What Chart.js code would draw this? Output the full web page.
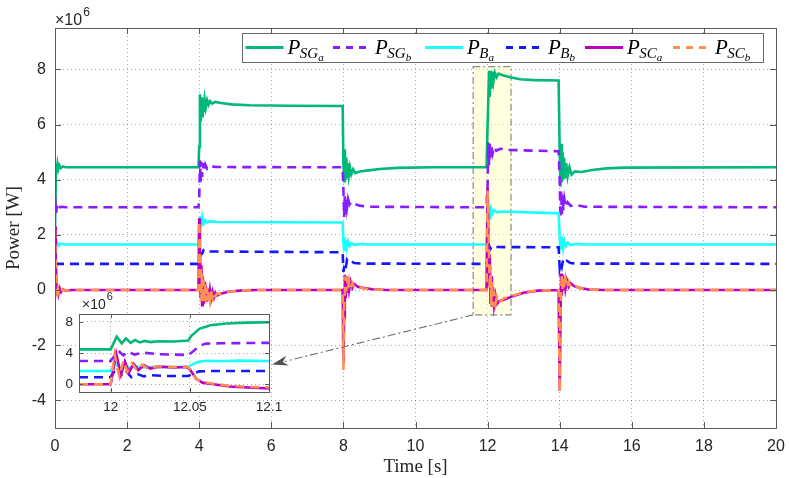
<!DOCTYPE html>
<html><head><meta charset="utf-8">
<script src="https://cdn.jsdelivr.net/npm/chart.js@4.4.1/dist/chart.umd.min.js"></script>
<style>
html,body{margin:0;padding:0;background:#fff;}
#wrap{position:relative;width:789px;height:478px;}
#main{position:absolute;left:0;top:0;}
#inset{position:absolute;left:50px;top:285px;}
</style></head>
<body><div id="wrap"><canvas id="main" width="789" height="478"></canvas><canvas id="inset" width="235" height="130"></canvas></div>
<script>
// ---- data (power in units of 1e6 W, time in s) ----
const xTicks = [0,2,4,6,8,10,12,14,16,18,20];
const yTicks = [-4,-2,0,2,4,6,8];
const insetXTicks = [12,12.05,12.1];
const insetYTicks = [0,4,8];
const seriesNames = ['P_SGa','P_SGb','P_Ba','P_Bb','P_SCa','P_SCb'];

const pSGa = [[0,2.2],[0.03,4.6],[0.05,4.3],[0.07,4.55],[0.09,4.38],[0.12,4.52],[0.16,4.42],[0.22,4.48],[0.3,4.45],[3.98,4.45],
[4.0,5.2],[4.02,7.1],[4.04,6.1],[4.06,7.0],[4.08,6.3],[4.1,6.95],[4.12,6.45],[4.15,6.9],[4.18,6.6],[4.22,6.88],[4.26,6.72],[4.3,6.85],[4.36,6.76],[4.45,6.82],[4.6,6.78],[4.9,6.73],[5.4,6.7],[6.5,6.68],[7.98,6.67],
[8.0,4.6],[8.02,3.95],[8.04,5.1],[8.06,4.0],[8.08,4.8],[8.1,4.1],[8.12,4.6],[8.15,4.15],[8.18,4.45],[8.22,4.2],[8.27,4.38],[8.33,4.24],[8.45,4.3],[8.7,4.34],[9.0,4.39],[9.5,4.43],[10.5,4.45],[11.97,4.45],
[12.0,6.0],[12.02,6.9],[12.04,7.95],[12.06,7.0],[12.08,7.95],[12.1,7.3],[12.13,7.92],[12.16,7.55],[12.2,7.88],[12.25,7.72],[12.3,7.85],[12.4,7.8],[12.6,7.72],[12.9,7.64],[13.3,7.61],[13.97,7.6],
[14.0,5.0],[14.02,3.75],[14.04,5.3],[14.06,3.9],[14.08,5.0],[14.1,4.0],[14.12,4.8],[14.15,4.05],[14.18,4.6],[14.22,4.12],[14.27,4.45],[14.33,4.18],[14.42,4.3],[14.6,4.28],[14.9,4.35],[15.3,4.41],[15.8,4.44],[20,4.45]];

const pSGb = [[0,3.4],[0.03,2.8],[0.06,3.1],[0.1,2.95],[0.15,3.02],[0.3,3.0],[3.98,3.0],
[4.0,3.3],[4.02,4.7],[4.04,3.9],[4.06,4.65],[4.08,4.1],[4.1,4.6],[4.13,4.3],[4.17,4.55],[4.22,4.4],[4.3,4.5],[4.45,4.46],[7.98,4.45],
[8.0,3.6],[8.02,2.65],[8.04,3.4],[8.06,2.7],[8.08,3.35],[8.1,3.0],[8.13,3.3],[8.17,3.1],[8.22,3.2],[8.3,3.12],[8.45,3.06],[8.7,3.02],[11.97,3.0],
[12.0,3.8],[12.02,5.35],[12.04,4.5],[12.06,5.3],[12.08,4.8],[12.1,5.25],[12.14,4.95],[12.18,5.18],[12.24,5.05],[12.35,5.12],[12.6,5.08],[13.97,5.03],
[14.0,4.0],[14.02,2.6],[14.04,3.6],[14.06,2.75],[14.08,3.45],[14.1,2.9],[14.13,3.3],[14.17,3.0],[14.22,3.18],[14.3,3.05],[14.45,3.08],[14.7,3.02],[20,3.0]];

const pBa = [[0,1.8],[0.03,1.6],[0.06,1.72],[0.1,1.62],[0.15,1.68],[0.3,1.65],[3.98,1.65],
[4.0,2.3],[4.02,2.68],[4.04,2.3],[4.06,2.62],[4.08,2.38],[4.1,2.58],[4.13,2.42],[4.17,2.53],[4.22,2.45],[4.3,2.5],[4.5,2.47],[7.98,2.45],
[8.0,1.7],[8.02,1.45],[8.04,1.9],[8.06,1.5],[8.08,1.8],[8.1,1.55],[8.13,1.75],[8.17,1.6],[8.22,1.7],[8.3,1.63],[8.45,1.67],[8.7,1.65],[11.97,1.65],
[12.0,2.3],[12.02,3.05],[12.04,2.6],[12.06,3.0],[12.08,2.7],[12.1,2.95],[12.14,2.78],[12.18,2.9],[12.25,2.82],[12.4,2.85],[13.97,2.78],
[14.0,1.9],[14.02,1.45],[14.04,1.95],[14.06,1.5],[14.08,1.85],[14.1,1.55],[14.13,1.78],[14.17,1.6],[14.22,1.72],[14.3,1.63],[14.45,1.67],[14.7,1.65],[20,1.65]];

const pBb = [[0,0.95],[3.98,0.95],
[4.0,1.1],[4.04,1.28],[4.08,1.32],[4.12,1.44],[4.17,1.38],[4.25,1.4],[7.98,1.37],
[8.0,0.66],[8.03,0.9],[8.06,0.75],[8.1,1.1],[8.15,1.02],[8.2,1.06],[8.3,0.98],[8.5,0.96],[11.97,0.95],
[12.0,1.2],[12.04,1.62],[12.08,1.5],[12.12,1.6],[12.2,1.56],[13.97,1.55],
[14.0,0.8],[14.03,1.0],[14.06,0.85],[14.1,1.12],[14.15,1.02],[14.2,1.06],[14.3,0.98],[14.5,0.96],[20,0.95]];

const pSCa = [[0,2.3],[0.02,1.2],[0.04,0.3],[0.06,-0.15],[0.08,0.1],[0.1,-0.12],[0.13,0.06],[0.17,-0.07],[0.22,0.03],[0.3,-0.03],[0.45,0.0],[3.98,0],
[4.0,2.6],[4.02,1.6],[4.04,-0.3],[4.06,0.9],[4.08,-0.55],[4.1,0.5],[4.12,-0.5],[4.14,0.3],[4.16,-0.45],[4.18,0.15],[4.21,-0.42],[4.24,0.05],[4.27,-0.38],[4.3,-0.02],[4.33,-0.32],[4.37,-0.06],[4.41,-0.27],[4.45,-0.1],[4.5,-0.2],[4.6,-0.13],[4.8,-0.06],[5.2,-0.01],[5.6,0],[7.98,0],
[8.0,-2.63],[8.02,-1.0],[8.04,0.55],[8.06,-0.3],[8.08,0.5],[8.1,-0.1],[8.13,0.4],[8.16,0.0],[8.2,0.3],[8.25,0.08],[8.3,0.22],[8.4,0.12],[8.55,0.08],[8.8,0.03],[9.2,0],[11.97,0],
[12.0,3.7],[12.02,2.2],[12.04,0.2],[12.06,1.3],[12.08,-0.5],[12.1,0.5],[12.12,-0.6],[12.15,0.1],[12.18,-0.55],[12.22,-0.2],[12.26,-0.5],[12.32,-0.4],[12.45,-0.35],[12.7,-0.22],[13.0,-0.1],[13.4,-0.02],[13.97,0],
[14.0,-3.65],[14.02,-1.2],[14.04,0.6],[14.06,-0.2],[14.08,0.55],[14.1,0.0],[14.13,0.45],[14.16,0.05],[14.2,0.35],[14.25,0.12],[14.3,0.25],[14.4,0.14],[14.55,0.08],[14.8,0.02],[15.2,0],[20,0]];

const pSCb = [[0,2.2],[0.02,1.0],[0.04,0.2],[0.06,-0.05],[0.08,0.05],[0.1,-0.08],[0.13,0.04],[0.17,-0.04],[0.22,0.02],[0.3,-0.02],[0.45,0],[3.98,0],
[4.0,2.5],[4.02,1.3],[4.04,0.7],[4.06,-0.4],[4.08,0.6],[4.1,-0.45],[4.12,0.35],[4.14,-0.45],[4.16,0.2],[4.18,-0.42],[4.21,0.1],[4.24,-0.38],[4.27,0.02],[4.3,-0.34],[4.33,-0.04],[4.37,-0.28],[4.41,-0.08],[4.45,-0.22],[4.5,-0.12],[4.6,-0.14],[4.8,-0.06],[5.2,-0.01],[5.6,0],[7.98,0],
[8.0,-2.9],[8.02,-0.6],[8.04,-0.1],[8.06,0.5],[8.08,-0.05],[8.1,0.45],[8.13,0.05],[8.16,0.35],[8.2,0.1],[8.25,0.25],[8.3,0.1],[8.4,0.15],[8.55,0.06],[8.8,0.02],[9.2,0],[11.97,0],
[12.0,3.6],[12.02,2.6],[12.04,1.4],[12.06,0.0],[12.08,0.9],[12.1,-0.55],[12.12,0.3],[12.15,-0.6],[12.18,-0.05],[12.22,-0.5],[12.26,-0.25],[12.32,-0.45],[12.45,-0.3],[12.7,-0.2],[13.0,-0.08],[13.4,-0.02],[13.97,0],
[14.0,-3.7],[14.02,-0.8],[14.04,-0.1],[14.06,0.6],[14.08,0.0],[14.1,0.5],[14.13,0.05],[14.16,0.4],[14.2,0.1],[14.25,0.3],[14.3,0.12],[14.4,0.18],[14.55,0.07],[14.8,0.02],[15.2,0],[20,0]];

// zoomed inset window 11.98 - 12.1 s
const iSGa = [[11.98,4.47],[12.0,4.47],[12.0038,6.08],[12.007,5.23],[12.0097,5.87],[12.0126,5.3],[12.0153,5.66],[12.0185,5.35],[12.0216,5.55],[12.025,5.4],[12.03,5.5],[12.04,5.48],[12.049,5.6],[12.051,6.2],[12.056,7.1],[12.063,7.55],[12.073,7.78],[12.086,7.9],[12.1,7.95]];
const iSGb = [[11.98,2.98],[12.0,2.98],[12.0048,4.3],[12.008,3.7],[12.011,4.15],[12.015,3.8],[12.02,4.05],[12.03,3.85],[12.04,3.8],[12.049,3.75],[12.052,4.2],[12.056,4.9],[12.06,5.2],[12.07,5.25],[12.1,5.3]];
const iBa = [[11.98,1.7],[12.0,1.7],[12.003,2.7],[12.006,2.0],[12.009,2.45],[12.012,2.1],[12.016,2.3],[12.02,2.15],[12.03,2.22],[12.049,2.2],[12.052,2.6],[12.056,2.9],[12.062,3.0],[12.07,2.95],[12.08,3.02],[12.1,2.98]];
const iBb = [[11.98,0.9],[12.0,0.9],[12.004,2.2],[12.007,1.0],[12.01,1.6],[12.013,0.9],[12.017,1.3],[12.021,1.0],[12.026,1.15],[12.035,1.05],[12.049,1.05],[12.052,1.35],[12.056,1.65],[12.065,1.7],[12.1,1.7]];
const iSCa = [[11.98,0],[12.0,0],[12.0035,3.9],[12.0065,1.2],[12.009,2.9],[12.0115,1.5],[12.0145,2.6],[12.0175,1.8],[12.021,2.45],[12.025,2.0],[12.03,2.25],[12.04,2.15],[12.048,2.2],[12.05,1.9],[12.054,0.7],[12.058,0.2],[12.065,0.0],[12.075,-0.3],[12.09,-0.45],[12.1,-0.55]];
const iSCb = [[11.98,0],[12.0,0],[12.0025,3.8],[12.0055,1.0],[12.008,3.0],[12.0105,1.6],[12.0135,2.7],[12.0165,1.8],[12.02,2.5],[12.024,1.95],[12.029,2.3],[12.04,2.2],[12.048,2.25],[12.05,2.0],[12.053,0.9],[12.057,0.3],[12.065,0.05],[12.075,-0.2],[12.09,-0.35],[12.1,-0.4]];

// zoom-highlight box and arrow (data units of main axes)
const zoomBox = {x0:11.6, x1:12.65, y0:-0.9, y1:8.1};
const arrowEnd = {x:6.02, y:-2.7};

// ---- styles ----
const COLORS = ['#00B878','#8A1CFF','#1CFFFF','#1616FF','#BE00BE','#FF8F52'];
const DASHED = [false,true,false,true,false,true];
const DASH = [9,6];
const SUBS = [['SG','a'],['SG','b'],['B','a'],['B','b'],['SC','a'],['SC','b']];
const TXT = '#262626';
const GRIDC = 'rgba(60,60,60,0.45)';
const BOXC = '#5a5a5a';

function mk(arr, i, lw){
  return {label:seriesNames[i], data:arr.map(p=>({x:p[0],y:p[1]})), borderColor:COLORS[i],
    borderWidth:lw, borderDash:DASHED[i]?DASH:[], pointRadius:0, tension:0, fill:false, order:6-i};
}

function drawBoxTicks(chart, len){
  const c=chart.ctx, a=chart.chartArea, sx=chart.scales.x, sy=chart.scales.y;
  c.save(); c.strokeStyle=BOXC; c.lineWidth=1; c.setLineDash([]);
  c.strokeRect(Math.round(a.left)+0.5, Math.round(a.top)+0.5, Math.round(a.right-a.left), Math.round(a.bottom-a.top));
  c.beginPath();
  sx.ticks.forEach(t=>{const x=Math.round(sx.getPixelForValue(t.value))+0.5;
    c.moveTo(x,a.bottom); c.lineTo(x,a.bottom-len); c.moveTo(x,a.top); c.lineTo(x,a.top+len);});
  sy.ticks.forEach(t=>{const y=Math.round(sy.getPixelForValue(t.value))+0.5;
    c.moveTo(a.left,y); c.lineTo(a.left+len,y); c.moveTo(a.right,y); c.lineTo(a.right-len,y);});
  c.stroke(); c.restore();
}
function drawExp(c, x, y, f1, f2){
  c.save(); c.fillStyle=TXT; c.textBaseline='alphabetic'; c.textAlign='left';
  c.font=f1; c.fillText('\u00d710', x, y); const w=c.measureText('\u00d710').width;
  c.font=f2; c.fillText('6', x+w+1, y-9); c.restore();
}

const mainPlugin = {
  id:'mainDeco',
  beforeDatasetsDraw(chart){
    const c=chart.ctx, sx=chart.scales.x, sy=chart.scales.y;
    const x0=sx.getPixelForValue(zoomBox.x0), x1=sx.getPixelForValue(zoomBox.x1);
    const y0=sy.getPixelForValue(zoomBox.y1), y1=sy.getPixelForValue(zoomBox.y0);
    c.save(); c.fillStyle='rgba(255,255,196,0.55)'; c.fillRect(x0,y0,x1-x0,y1-y0);
    c.strokeStyle='#8a8a8a'; c.lineWidth=1.2; c.setLineDash([7,3,2,3]); c.strokeRect(x0,y0,x1-x0,y1-y0); c.restore();
  },
  afterDatasetsDraw(chart){
    const c=chart.ctx, sx=chart.scales.x, sy=chart.scales.y;
    const ax=sx.getPixelForValue(zoomBox.x0), ay=sy.getPixelForValue(zoomBox.y0);
    const bx=sx.getPixelForValue(arrowEnd.x), by=sy.getPixelForValue(arrowEnd.y);
    const ang=Math.atan2(by-ay,bx-ax), L=13, W=5;
    const hx=bx-L*Math.cos(ang), hy=by-L*Math.sin(ang);
    c.save(); c.strokeStyle='#707070'; c.lineWidth=1.1; c.setLineDash([8,3,2,3]);
    c.beginPath(); c.moveTo(ax,ay); c.lineTo(hx,hy); c.stroke();
    c.setLineDash([]); c.fillStyle='#505050';
    c.beginPath(); c.moveTo(bx,by);
    c.lineTo(hx-W*Math.sin(ang)-3*Math.cos(ang), hy+W*Math.cos(ang)-3*Math.sin(ang));
    c.lineTo(hx+2*Math.cos(ang), hy+2*Math.sin(ang));
    c.lineTo(hx+W*Math.sin(ang)-3*Math.cos(ang), hy-W*Math.cos(ang)-3*Math.sin(ang));
    c.closePath(); c.fill(); c.restore();
  },
  afterDraw(chart){
    const c=chart.ctx, a=chart.chartArea;
    drawBoxTicks(chart, 6);
    drawExp(c, a.left, a.top-3, '16px "Liberation Sans"', '12px "Liberation Sans"');
    // legend
    const bl=a.right-534, bt=a.top+5, bw=521, bh=29;
    c.save(); c.fillStyle='#fff'; c.fillRect(bl,bt,bw,bh);
    c.strokeStyle='#6a6a6a'; c.lineWidth=1; c.strokeRect(Math.round(bl)+0.5,Math.round(bt)+0.5,bw,bh);
    const starts=[3.5,91,183,264,343,431], cy=bt+bh/2;
    for(let i=0;i<6;i++){
      const lx=bl+starts[i];
      c.strokeStyle=COLORS[i]; c.lineWidth=3; c.setLineDash(DASHED[i]?[7,6]:[]);
      c.beginPath(); c.moveTo(lx,cy); c.lineTo(lx+38,cy); c.stroke(); c.setLineDash([]);
      let tx=lx+42; const base=cy+6;
      c.fillStyle='#000'; c.textBaseline='alphabetic'; c.textAlign='left';
      c.font='italic 21px "Liberation Serif"'; c.fillText('P',tx,base); tx+=c.measureText('P').width-0.5;
      c.font='italic 15px "Liberation Serif"'; c.fillText(SUBS[i][0],tx,base+4); tx+=c.measureText(SUBS[i][0]).width;
      c.font='italic 11px "Liberation Serif"'; c.fillText(SUBS[i][1],tx,base+7);
    }
    c.restore();
  }
};

const tickFont = {family:'Liberation Sans', size:16};
new Chart(document.getElementById('main'), {
  type:'line',
  data:{datasets:[mk(pSGa,0,2.6),mk(pSGb,1,2.6),mk(pBa,2,2.6),mk(pBb,3,2.6),mk(pSCa,4,2.6),mk(pSCb,5,2.6)]},
  options:{
    responsive:false, animation:false, devicePixelRatio:1,
    layout:{padding:{top:28,right:13,left:0,bottom:0}},
    plugins:{legend:{display:false}, tooltip:{enabled:false}},
    scales:{
      x:{type:'linear', min:0, max:20,
        afterBuildTicks(s){s.ticks=xTicks.map(v=>({value:v}));},
        afterFit(s){s.height=50; s.paddingLeft=0; s.paddingRight=0;},
        ticks:{font:tickFont, color:TXT, padding:9, maxRotation:0, autoSkip:false},
        grid:{color:GRIDC, lineWidth:1, drawTicks:false},
        border:{display:false, dash:[1,3]},
        title:{display:true, text:'Time [s]', color:TXT, font:{family:'Liberation Serif', size:19}, padding:{top:0,bottom:0}}},
      y:{type:'linear', min:-5, max:9.5,
        afterBuildTicks(s){s.ticks=yTicks.map(v=>({value:v}));},
        afterFit(s){s.width=55; s.paddingTop=0; s.paddingBottom=0;},
        ticks:{font:tickFont, color:TXT, padding:9},
        grid:{color:GRIDC, lineWidth:1, drawTicks:false},
        border:{display:false, dash:[1,3]},
        title:{display:true, text:'Power [W]', color:TXT, font:{family:'Liberation Serif', size:19}, padding:{top:3,bottom:0}}}
    }
  },
  plugins:[mainPlugin]
});

const insetPlugin = {
  id:'insetDeco',
  beforeDraw(chart){
    const c=chart.ctx, a=chart.chartArea;
    c.save(); c.fillStyle='#fff'; c.fillRect(a.left,a.top,a.right-a.left,a.bottom-a.top); c.restore();
  },
  afterDraw(chart){
    drawBoxTicks(chart, 4);
    const a=chart.chartArea;
    drawExp(chart.ctx, a.left+3, a.top-5, '14px "Liberation Sans"', '11px "Liberation Sans"');
  }
};
const iFont = {family:'Liberation Sans', size:13.5};
new Chart(document.getElementById('inset'), {
  type:'line',
  data:{datasets:[mk(iSGa,0,2.6),mk(iSGb,1,2.6),mk(iBa,2,2.6),mk(iBb,3,2.6),mk(iSCa,4,2.6),mk(iSCb,5,2.6)]},
  options:{
    responsive:false, animation:false, devicePixelRatio:1,
    layout:{padding:{top:29,right:16,left:0,bottom:0}},
    plugins:{legend:{display:false}, tooltip:{enabled:false}},
    scales:{
      x:{type:'linear', min:11.98, max:12.1,
        afterBuildTicks(s){s.ticks=insetXTicks.map(v=>({value:v}));},
        afterFit(s){s.height=23; s.paddingLeft=0; s.paddingRight=0;},
        ticks:{font:iFont, color:TXT, padding:7, maxRotation:0, autoSkip:false, callback:v=>String(+v.toFixed(2))},
        grid:{color:GRIDC, lineWidth:1, drawTicks:false},
        border:{display:false, dash:[1,3]}},
      y:{type:'linear', min:-1, max:9,
        afterBuildTicks(s){s.ticks=insetYTicks.map(v=>({value:v}));},
        afterFit(s){s.width=29; s.paddingTop=0; s.paddingBottom=0;},
        ticks:{font:iFont, color:TXT, padding:6},
        grid:{color:GRIDC, lineWidth:1, drawTicks:false},
        border:{display:false, dash:[1,3]}}
    }
  },
  plugins:[insetPlugin]
});
</script></body></html>
